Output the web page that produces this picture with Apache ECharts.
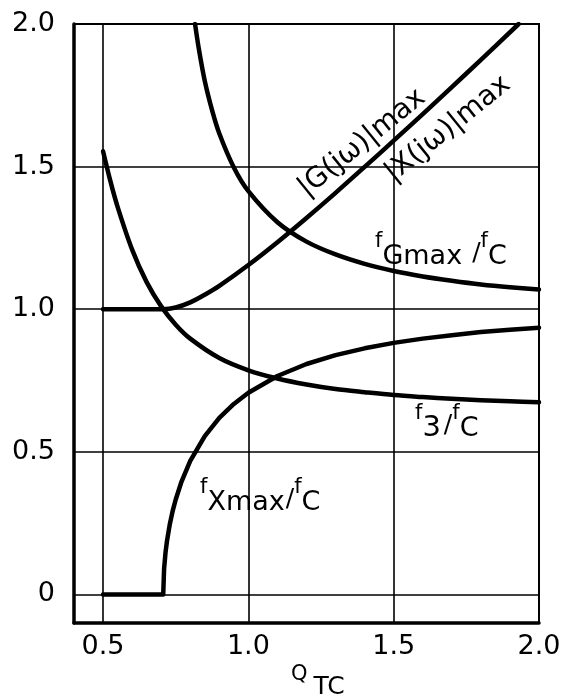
<!DOCTYPE html>
<html>
<head>
<meta charset="utf-8">
<script src="https://cdn.jsdelivr.net/npm/echarts@6/dist/echarts.min.js"></script>
<style>
html,body{margin:0;padding:0;background:#fff;}
#chart{width:566px;height:700px;}
</style>
</head>
<body>
<div id="chart"></div>
<script>
// ---- data ----
const xTickLabels = [0.5, 1.0, 1.5, 2.0];
const yTickLabels = [0, 0.5, 1.0, 1.5, 2.0];
const gridX = [0.5, 1.0, 1.5];
const gridY = [0, 0.5, 1.0, 1.5];

// |G(jw)|max  (same curve labelled |X(jw)|max)
const qG   = [0.5, 0.6, 0.707, 0.75, 0.8, 0.85, 0.9, 1.0, 1.1, 1.2, 1.3, 1.4, 1.5, 1.6, 1.7, 1.8, 1.93];
const gMax = [1.0, 1.0, 1.0, 1.006, 1.024, 1.051, 1.082, 1.155, 1.235, 1.32, 1.408, 1.499, 1.591, 1.684, 1.779, 1.874, 2.0];

// fGmax / fC
const qFG   = [0.8165, 0.83, 0.85, 0.875, 0.9, 0.95, 1.0, 1.1, 1.2, 1.3, 1.4, 1.5, 1.6, 1.7, 1.8, 1.9, 2.0];
const fGmax = [2.0, 1.91, 1.80, 1.698, 1.616, 1.497, 1.414, 1.305, 1.237, 1.192, 1.159, 1.134, 1.115, 1.100, 1.087, 1.077, 1.069];

// f3 / fC
const q3 = [0.5, 0.525, 0.55, 0.6, 0.65, 0.7, 0.75, 0.8, 0.9, 1.0, 1.1, 1.2, 1.3, 1.4, 1.5, 1.6, 1.7, 1.8, 1.9, 2.0];
const f3 = [1.554, 1.45, 1.359, 1.209, 1.095, 1.010, 0.946, 0.897, 0.829, 0.786, 0.757, 0.736, 0.720, 0.709, 0.699, 0.692, 0.686, 0.681, 0.677, 0.674];

// fXmax / fC
const qX   = [0.5, 0.707, 0.71, 0.715, 0.72, 0.73, 0.74, 0.75, 0.77, 0.8, 0.85, 0.9, 0.95, 1.0, 1.1, 1.2, 1.3, 1.4, 1.5, 1.6, 1.7, 1.8, 1.9, 2.0];
const fXmax = [0, 0, 0.09, 0.148, 0.188, 0.248, 0.295, 0.333, 0.396, 0.468, 0.555, 0.619, 0.668, 0.707, 0.766, 0.808, 0.839, 0.863, 0.882, 0.897, 0.909, 0.920, 0.928, 0.935];

// ---- chart ----
const FONT = '"DejaVu Sans", sans-serif';
const zip = (a, b) => a.map((v, i) => [v, b[i]]);
const near = (v, arr) => arr.some(t => Math.abs(v - t) < 1e-6);

const curveStyle = { color: '#000', width: 4.5, join: 'round', cap: 'round' };
function curve(name, xs, ys, smooth) {
  return {
    name, type: 'line', data: zip(xs, ys), showSymbol: false, symbol: 'none',
    smooth: smooth,
    lineStyle: curveStyle, z: 5, silent: true, animation: false, clip: true
  };
}

const gridLineData = gridX.map(v => ({ xAxis: v })).concat(gridY.map(v => ({ yAxis: v })));

const subText = (x, y, head, tail, slashGap, headSize) => ({
  type: 'text', x, y, z: 3,
  style: {
    text: '{f|f}{h|' + head + '}{sl|/}{f|f}{s|' + tail + '}',
    fill: '#000',
    font: '26px ' + FONT,
    backgroundColor: '#fff',
    padding: [2, 4, 2, 4],
    rich: {
      f: { fontSize: 21, fontFamily: FONT, lineHeight: 20, verticalAlign: 'top', fill: '#000' },
      h: { fontSize: headSize, fontFamily: FONT, lineHeight: 39, verticalAlign: 'bottom', fill: '#000' },
      s: { fontSize: 27, fontFamily: FONT, lineHeight: 39, verticalAlign: 'bottom', fill: '#000' },
      sl: { fontSize: 25, fontFamily: FONT, lineHeight: 39, fill: '#000', padding: [5, 0, 0, slashGap] }
    }
  }
});

const option = {
  backgroundColor: '#fff',
  animation: false,
  grid: { left: 74, top: 24, right: 27, bottom: 77, show: true, borderColor: '#000', borderWidth: 2, backgroundColor: 'transparent' },
  xAxis: {
    type: 'value', min: 0.4, max: 2.0, interval: 0.1,
    axisLine: { onZero: false, lineStyle: { color: '#000', width: 3.5 } },
    axisTick: { show: false },
    splitLine: { show: false },
    axisLabel: {
      color: '#000', fontSize: 27, fontFamily: FONT, margin: 10, showMaxLabel: true, showMinLabel: true,
      formatter: v => near(v, xTickLabels) ? v.toFixed(1) : ''
    }
  },
  yAxis: {
    type: 'value', min: -0.1, max: 2.0, interval: 0.1,
    axisLine: { onZero: false, lineStyle: { color: '#000', width: 3.5 } },
    axisTick: { show: false },
    splitLine: { show: false },
    axisLabel: {
      color: '#000', fontSize: 27, fontFamily: FONT, margin: 19, showMaxLabel: true, showMinLabel: true,
      formatter: v => near(v, yTickLabels) ? (Math.abs(v) < 1e-6 ? '0' : v.toFixed(1)) : ''
    }
  },
  series: [
    {
      type: 'line', data: [], z: 1, silent: true,
      markLine: {
        silent: true, symbol: 'none', animation: false,
        label: { show: false },
        lineStyle: { color: '#000', width: 1.6, type: 'solid' },
        emphasis: { disabled: true },
        data: gridLineData
      }
    },
    curve('|G(jω)|max', qG, gMax, 0.3),
    curve('fGmax/fC', qFG, fGmax, 0.3),
    curve('f3/fC', q3, f3, 0.3),
    curve('fXmax/fC', qX, fXmax, false)
  ],
  graphic: [
    {
      type: 'text', x: 362, y: 143, rotation: 39 * Math.PI / 180, z: 3,
      style: { text: '|G(jω)|max', font: '28px ' + FONT, fill: '#000', align: 'center', verticalAlign: 'middle', backgroundColor: '#fff', padding: [6, 3, 6, 3] }
    },
    {
      type: 'text', x: 448, y: 129, rotation: 39 * Math.PI / 180, z: 3,
      style: { text: '|X(jω)|max', font: '28px ' + FONT, fill: '#000', align: 'center', verticalAlign: 'middle', backgroundColor: '#fff', padding: [6, 3, 6, 3] }
    },
    subText(371, 229.5, 'Gmax', 'C', 10, 27),
    subText(411, 401.5, '3', 'C', 3, 29),
    subText(196, 475, 'Xmax', 'C', 1, 27),
    {
      type: 'text', x: 291, y: 664, z: 3,
      style: {
        text: '{q|Q}{t|TC}', fill: '#000',
        rich: {
          q: { fontSize: 21, fontFamily: FONT, lineHeight: 20, verticalAlign: 'top', fill: '#000' },
          t: { fontSize: 25, fontFamily: FONT, lineHeight: 36, verticalAlign: 'bottom', fill: '#000', padding: [0, 0, 0, 6] }
        }
      }
    }
  ]
};

const chart = echarts.init(document.getElementById('chart'), null, { renderer: 'canvas' });
chart.setOption(option);
</script>
</body>
</html>
